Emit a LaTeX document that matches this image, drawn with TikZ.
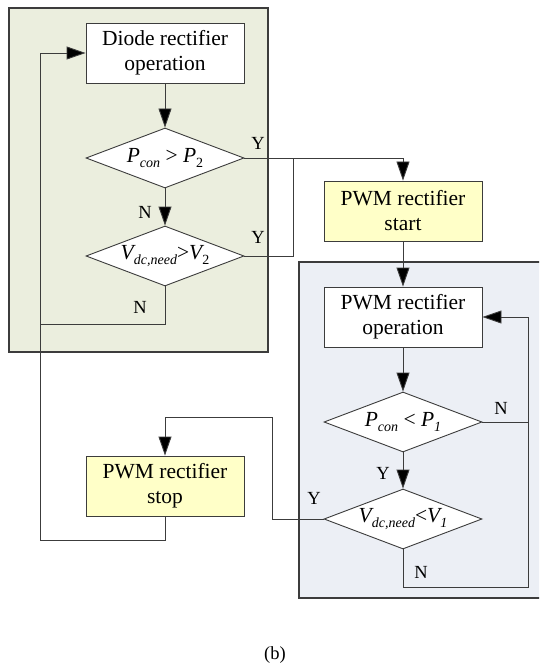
\documentclass[tikz,border=0pt]{standalone}
\usepackage{fontspec}
\setmainfont{Liberation Serif}
\usetikzlibrary{shapes.geometric,arrows.meta}
\definecolor{gpanel}{RGB}{235,238,222}
\definecolor{bpanel}{RGB}{236,239,245}
\definecolor{ybox}{RGB}{255,255,200}
\definecolor{lgray}{RGB}{60,60,60}
\newcommand{\lsub}[1]{\raisebox{-4.5pt}{\fontsize{14}{14}\selectfont #1}}
\begin{document}
\begin{tikzpicture}[x=1pt,y=-1pt,
  txt/.style={font=\fontsize{21.5}{25}\selectfont, align=center},
  procbox/.style={txt, draw=lgray, line width=0.9pt, fill=white, minimum width=158pt, minimum height=60pt, inner sep=0pt},
  ybox/.style={procbox, fill=ybox},
  decbox/.style={txt, diamond, aspect=2.6, draw=lgray, line width=0.9pt, fill=white, minimum width=158pt, minimum height=60pt, inner sep=0pt},
  panel/.style={draw=lgray, line width=1.4pt},
  conn/.style={draw=lgray, line width=0.9pt},
  arr/.style={conn, -{Triangle[length=19pt,width=13pt,fill=black]}},
  lab/.style={font=\fontsize{18.5}{20}\selectfont, inner sep=0pt}
]
\clip (0,0) rectangle (539,668);
\fill[white] (0,0) rectangle (539,668);
% panels
\filldraw[panel, fill=gpanel] (9,8) rectangle (268,352);
\filldraw[panel, fill=bpanel] (299,262) rectangle (560,598);
% nodes
\node[procbox] (diode) at (165,53) {Diode rectifier\\operation};
\node[decbox] (d1) at (165,158) {{\itshape P}\lsub{\itshape con} > {\itshape P}\lsub{2}};
\node[decbox] (d2) at (165,256) {{\itshape V}\lsub{\itshape dc,need}>{\itshape V}\lsub{2}};
\node[ybox] (start) at (403,211) {PWM rectifier\\start};
\node[procbox] (op) at (403,317) {PWM rectifier\\operation};
\node[decbox] (d3) at (403,422) {{\itshape P}\lsub{\itshape con} < {\itshape P}\lsub{\itshape 1}};
\node[decbox] (d4) at (403,519) {{\itshape V}\lsub{\itshape dc,need}<{\itshape V}\lsub{\itshape 1}};
\node[ybox] (stop) at (165,486) {PWM rectifier\\stop};
% coordinates
\coordinate (jy) at (293,158);
\coordinate (L1) at (40,324);
\coordinate (L2) at (40,540);
\coordinate (R1) at (528,422);
\coordinate (R2) at (528,587);
\coordinate (M) at (272,417);
% connectors
\draw[arr] (diode.south) -- (d1.north);
\draw[arr] (d1.south) -- (d2.north);
\draw[arr] (d1.east) -| (start.north);
\draw[conn] (d2.east) -| (jy);
\draw[conn] (d2.south) |- (L1);
\draw[arr] (stop.south) |- (L2) |- (diode.west);
\draw[arr] (start.south) -- (op.north);
\draw[arr] (op.south) -- (d3.north);
\draw[arr] (d3.south) -- (d4.north);
\draw[arr] (d3.east) -- (R1) |- (op.east);
\draw[conn] (d4.south) |- (R2) -- (R1);
\draw[arr] (d4.west) -| (M) -| (stop.north);
% labels
\node[lab] (ly1) at (258,143) {Y};
\node[lab] (ly2) at (258,237) {Y};
\node[lab] (ln1) at (145,212) {N};
\node[lab] (ln2) at (140,307) {N};
\node[lab] (ln3) at (501,408) {N};
\node[lab] (ly3) at (383,473) {Y};
\node[lab] (ly4) at (314,498) {Y};
\node[lab] (ln4) at (421,572) {N};
\node[lab] (cap) at (275,655) {(b)};
\end{tikzpicture}
\end{document}
